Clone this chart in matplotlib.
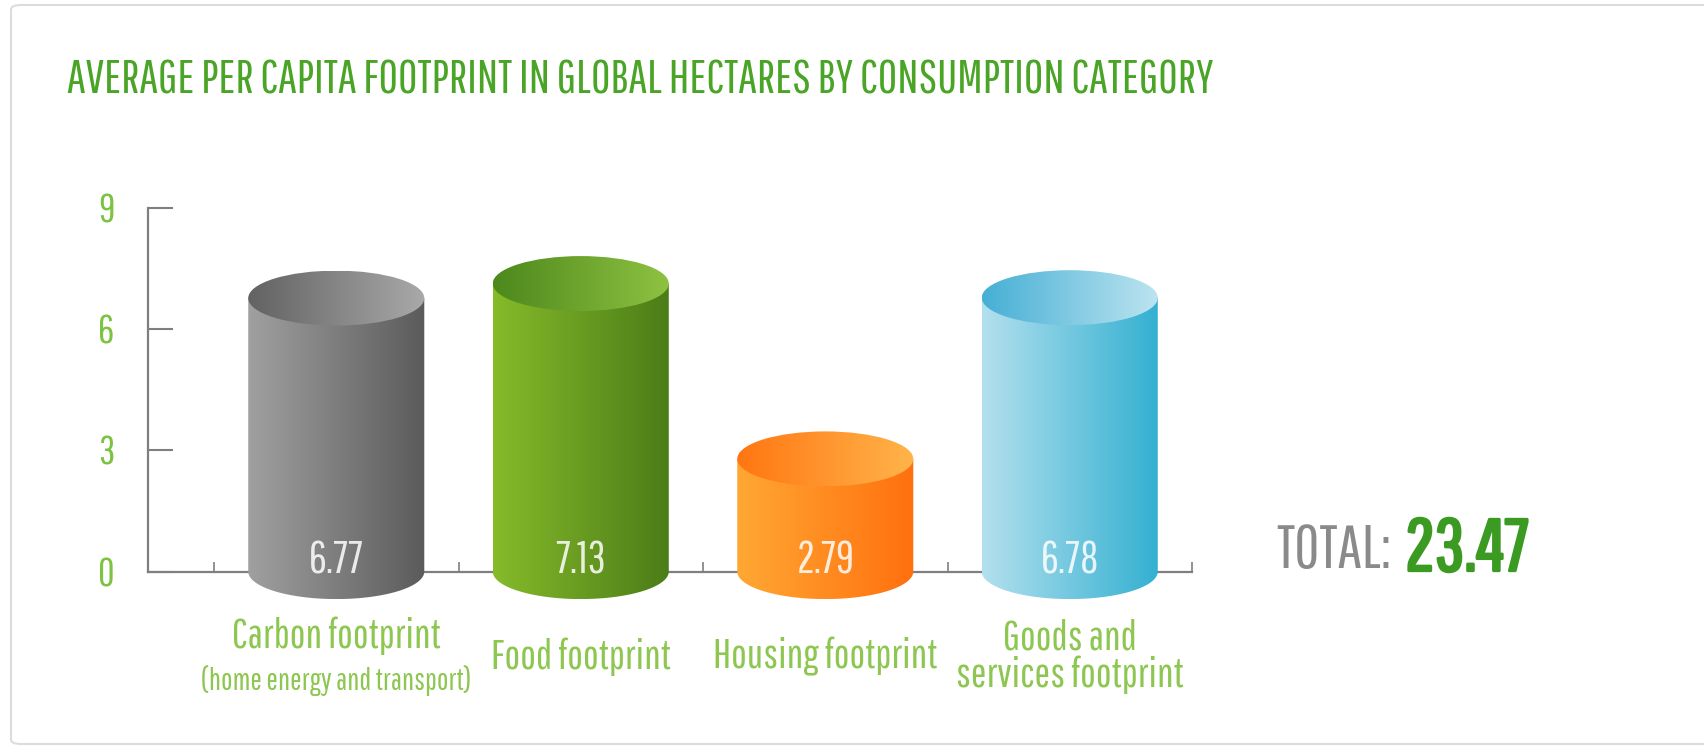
import numpy as np
import matplotlib
matplotlib.use("Agg")
import matplotlib.pyplot as plt
import matplotlib.patheffects as pe
from matplotlib.patches import Ellipse, PathPatch, FancyBboxPatch
from matplotlib.path import Path
from matplotlib.colors import LinearSegmentedColormap

# data
categories = ["Carbon footprint", "Food footprint", "Housing footprint",
              "Goods and\nservices footprint"]
sub_labels = ["(home energy and transport)", "", "", ""]
values = [6.77, 7.13, 2.79, 6.78]
value_labels = ["6.77", "7.13", "2.79", "6.78"]
y_ticks = [0, 3, 6, 9]
total_value = "23.47"

# left/right colours of the gradients (body, then the top ellipse)
body_colors = [("#a0a0a0", "#5b5b5b"), ("#86bb2a", "#4b7c18"),
               ("#ffa833", "#ff700f"), ("#b3e0ee", "#33b0d1")]
top_colors = [("#626262", "#a9a9a9"), ("#4d881c", "#8ec241"),
              ("#ff7612", "#ffb44a"), ("#46afd5", "#bde4f0")]

FONT = ["Pathway Gothic One", "DejaVu Sans"]
plt.rcParams["font.family"] = FONT

fig = plt.figure(figsize=(17.04, 7.53), dpi=100)
fig.patch.set_facecolor("white")

# card frame
frame = FancyBboxPatch((11 / 1704, 9 / 753), 1.05, 739 / 753,
                       boxstyle="round,pad=0,rounding_size=0.006",
                       transform=fig.transFigure, facecolor="none",
                       edgecolor="#dcdcdc", linewidth=1.5, zorder=-1)
fig.patches.append(frame)

ax = fig.add_axes([148 / 1704, (753 - 612) / 753, 1044 / 1704, 404 / 753])
ax.set_facecolor("none")

w = 0.72   # cylinder width
eh = 1.36  # ellipse height in data units
grad = np.linspace(0, 1, 256).reshape(1, -1)
for i, v in enumerate(values):
    x0, x1 = i - w / 2, i + w / 2
    t = np.linspace(np.pi, 2 * np.pi, 60)
    arc = np.column_stack([i + w / 2 * np.cos(t), eh / 2 * np.sin(t)])
    verts = np.vstack([[x0, v], arc, [x1, v], [x0, v]])
    body = PathPatch(Path(verts, closed=True), facecolor="none",
                     edgecolor="none")
    ax.add_patch(body)
    cmap = LinearSegmentedColormap.from_list("b", body_colors[i])
    im = ax.imshow(grad, cmap=cmap, extent=(x0, x1, -eh / 2, v),
                   aspect="auto", zorder=3, interpolation="bicubic")
    im.set_clip_path(body)

    top = Ellipse((i, v), w, eh, facecolor="none", edgecolor="none")
    ax.add_patch(top)
    cmap2 = LinearSegmentedColormap.from_list("t", top_colors[i])
    im2 = ax.imshow(grad, cmap=cmap2, extent=(x0, x1, v - eh / 2, v + eh / 2),
                    aspect="auto", zorder=4, interpolation="bicubic")
    im2.set_clip_path(top)

    ax.text(i, 0.27, value_labels[i], ha="center", va="center",
            fontsize=32, color="white", alpha=0.85, zorder=5)

    if sub_labels[i]:
        ax.text(i, -1.6, categories[i], ha="center", va="center",
                fontsize=30, color="#8dc650")
        ax.text(i, -2.7, sub_labels[i], ha="center", va="center",
                fontsize=22, color="#8dc650")
    else:
        ax.text(i, -2.1, categories[i], ha="center", va="center",
                fontsize=30, color="#8dc650", linespacing=0.95)

ax.set_xlim(-0.77, 3.5)
ax.set_ylim(-1.0, 9.0)

for s in ["top", "right"]:
    ax.spines[s].set_visible(False)
ax.spines["left"].set_bounds(0, 9)
ax.spines["bottom"].set_position(("data", 0))
for s in ["left", "bottom"]:
    ax.spines[s].set_color("#7f7f7f")
    ax.spines[s].set_linewidth(1.6)

ax.set_yticks(y_ticks)
ax.set_yticklabels([str(t) for t in y_ticks])
ax.tick_params(axis="y", direction="in", length=18, width=1.5,
               color="#7f7f7f", pad=24, labelsize=29, labelcolor="#7dc243")
ax.set_xticks([-0.5, 0.5, 1.5, 2.5, 3.5])
ax.set_xticklabels([])
ax.tick_params(axis="x", direction="in", length=7, width=1.2,
               color="#7f7f7f")

fig.text(67 / 1704, 1 - 80 / 753,
         "AVERAGE PER CAPITA FOOTPRINT IN GLOBAL HECTARES BY CONSUMPTION CATEGORY",
         ha="left", va="center", fontsize=34, color="#4aa526")

fig.text(1391 / 1704, 1 - 551 / 753, "TOTAL:", ha="right", va="center",
         fontsize=44, color="#8a8a8a")
fig.text(1405 / 1704, 1 - 550 / 753, total_value, ha="left", va="center",
         fontsize=53, color="#3a9a22",
         path_effects=[pe.withStroke(linewidth=2, foreground="#3a9a22")])

fig.savefig("out.png", dpi=100)
